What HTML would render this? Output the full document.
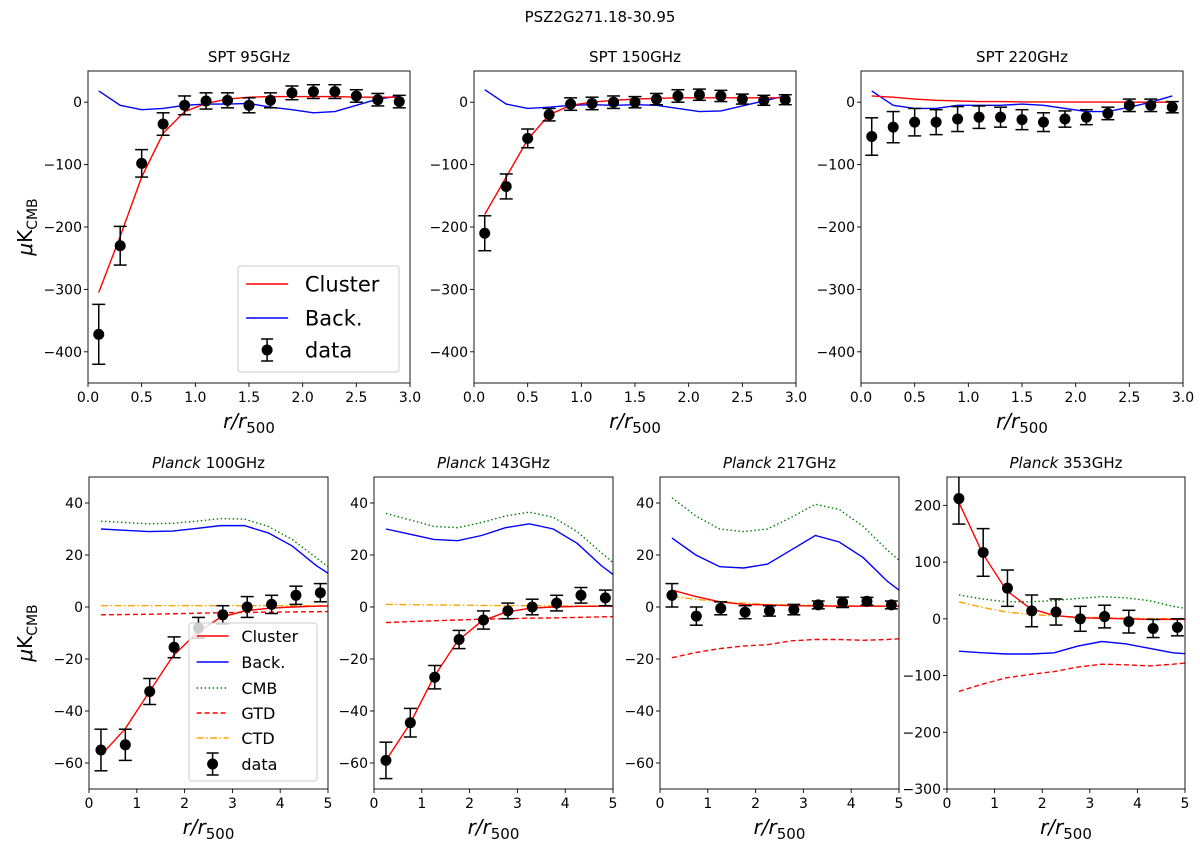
<!DOCTYPE html>
<html><head><meta charset="utf-8"><style>
body{margin:0;background:#fff}
svg{display:block;font-family:"DejaVu Sans","Liberation Sans",sans-serif}
</style></head><body>
<svg id="fig" width="1200" height="851" xmlns="http://www.w3.org/2000/svg">
<text x="600" y="22" text-anchor="middle" font-size="15">PSZ2G271.18-30.95</text>
</svg>
<script>
// ---- data ----
const sptX = [0.1,0.3,0.5,0.7,0.9,1.1,1.3,1.5,1.7,1.9,2.1,2.3,2.5,2.7,2.9];
const spt95Data = [-372,-230,-98,-35,-5,2,3,-5,3,15,17,17,10,4,1];
const spt95Err = [48,31,22,18,15,13,12,12,12,11,11,11,10,10,10];
const spt95Cluster = [-305,-215,-120,-50,-15,-2,5,8,9,9,9,9,8,8,8];
const spt95Back = [18,-5,-12,-10,-5,-3,-3,-2,-8,-12,-17,-15,-5,5,10];
const spt150Data = [-210,-135,-58,-20,-3,-2,0,0,5,10,12,10,5,3,4];
const spt150Err = [28,20,15,10,10,10,10,9,9,10,9,9,8,8,8];
const spt150Cluster = [-180,-120,-60,-20,-5,0,3,5,6,7,7,7,7,7,7];
const spt150Back = [20,-3,-10,-8,-5,-4,-5,-4,-5,-10,-15,-14,-6,2,10];
const spt220Data = [-55,-40,-32,-32,-27,-24,-24,-28,-32,-27,-24,-18,-5,-5,-8];
const spt220Err = [30,25,22,20,20,18,16,16,15,13,12,10,10,10,9];
const spt220Cluster = [10,8,5,3,2,1,1,0.5,0.5,0.3,0.2,0.2,0.1,0.1,0.1];
const spt220Back = [18,-5,-10,-10,-5,-5,-5,-3,-5,-10,-15,-15,-8,0,10];

const plX = [0.25,0.76,1.27,1.78,2.29,2.8,3.31,3.82,4.33,4.84];
const plLineX = [0.25,0.75,1.25,1.75,2.25,2.75,3.25,3.75,4.25,4.75,5.25];
const pl100Data = [-55,-53,-32.5,-15.5,-8,-3,0,1,4.5,5.5];
const pl100Err = [8,6,5,4,4,3.5,4,3.5,3.5,3.5];
const pl100Cluster = [-57,-47,-33,-19,-10,-4,-1.5,-0.5,0,0.3,0.4];
const pl100Back = [30,29.5,29,29.2,30.2,31.3,31.3,28.5,23.5,16,10];
const pl100CMB = [33,32.5,32,32.2,33,34,33.8,31,26,19,12];
const pl100GTD = [-3,-2.9,-2.8,-2.6,-2.4,-2.2,-2.1,-2,-1.9,-1.8,-1.7];
const pl100CTD = [0.5,0.5,0.5,0.5,0.5,0.5,0.5,0.5,0.5,0.5,0.5];
const pl143Data = [-59,-44.5,-27,-12.5,-5,-1.5,0,1.5,4.5,3.5];
const pl143Err = [7,5.5,4.5,3.5,3.5,3,3,3,3,3];
const pl143Cluster = [-59,-45,-27,-13,-5.5,-2,-0.5,0,0.2,0.3,0.3];
const pl143Back = [30,28,26,25.5,27.5,30.5,32,30,24.5,16,9];
const pl143CMB = [36,33.5,31,30.5,32.5,35,36.5,34.5,29,21,13];
const pl143GTD = [-6,-5.6,-5.3,-5,-4.7,-4.5,-4.3,-4.2,-4,-3.8,-3.6];
const pl143CTD = [1,0.9,0.8,0.7,0.6,0.5,0.5,0.4,0.4,0.4,0.4];
const pl217Data = [4.5,-3.5,-0.5,-2,-1.5,-1,0.8,1.8,2.2,0.8];
const pl217Err = [4.5,3.5,2.5,2.5,2,2,1.5,2,1.5,1.5];
const pl217Cluster = [6.5,4,2,1,0.8,0.5,0.4,0.3,0.3,0.3,0.3];
const pl217Back = [26.5,20,15.5,15,16.5,22,27.5,25,19,10,3];
const pl217CMB = [42,35,30,29,30,34.5,39.5,37.5,31,22,14];
const pl217GTD = [-19.5,-17.5,-16,-15,-14.5,-13,-12.5,-12.5,-12.8,-12.5,-12];
const pl217CTD = [4,3,2,1.5,1,0.8,0.6,0.5,0.4,0.4,0.4];
const pl353Data = [212,117,54,14,12,0,4,-5,-17,-15];
const pl353Err = [45,42,32,28,23,22,20,20,16,15];
const pl353Cluster = [205,115,50,18,6,2,1,0,-1,-1,-1];
const pl353Back = [-57,-60,-62,-62,-60,-48,-40,-44,-52,-60,-63];
const pl353CMB = [42,35,30,30,32,36,39,37,32,22,15];
const pl353GTD = [-128,-115,-104,-98,-93,-85,-80,-81,-83,-80,-76];
const pl353CTD = [30,20,12,8,5,3,2,1,0.5,0.3,0.3];

const sptXTicks = [0,0.5,1,1.5,2,2.5,3];
const sptXTickLabels = ["0.0","0.5","1.0","1.5","2.0","2.5","3.0"];
const sptYTicks = [-400,-300,-200,-100,0];
const plXTicks = [0,1,2,3,4,5];
const plYTicks = [-60,-40,-20,0,20,40];
const pl353YTicks = [-300,-200,-100,0,100,200];

// ---- drawing ----
const NS = "http://www.w3.org/2000/svg";
const svg = document.getElementById('fig');
function mk(tag, attrs, parent){
  const e = document.createElementNS(NS, tag);
  for (const k in attrs) e.setAttribute(k, attrs[k]);
  (parent||svg).appendChild(e);
  return e;
}
function fmt(v){ return v<0 ? "\u2212"+Math.abs(v) : ""+v; }
let clipId = 0;
function panel(p){
  const g = mk('g', {});
  
  
  const sx = v => p.x0 + (v - p.xmin)/(p.xmax - p.xmin)*(p.x1 - p.x0);
  const sy = v => p.y1 - (v - p.ymin)/(p.ymax - p.ymin)*(p.y1 - p.y0);
  const id = 'clip' + (clipId++);
  const cp = mk('clipPath', {id:id}, g);
  mk('rect', {x:p.x0, y:p.y0, width:p.x1-p.x0, height:p.y1-p.y0}, cp);
  const t = mk('text', {x:(p.x0+p.x1)/2, y:p.y0-9, 'text-anchor':'middle', 'font-size':15}, g);
  
  
  if (p.italic){ const ts = mk('tspan', {'font-style':'italic'}, t); ts.textContent = p.italic; t.appendChild(document.createTextNode(' ' + p.title)); }
  else t.textContent = p.title;
  p.xticks.forEach((v,i) => {
    const X = sx(v);
    mk('line', {x1:X, x2:X, y1:p.y1, y2:p.y1+4, stroke:'#000', 'stroke-width':0.9}, g);
    const tl = mk('text', {x:X, y:p.y1+19, 'text-anchor':'middle', 'font-size':14}, g);
    
    
    tl.textContent = p.xlabels ? p.xlabels[i] : fmt(v);
  });
  p.yticks.forEach(v => {
    const Y = sy(v);
    mk('line', {x1:p.x0-4, x2:p.x0, y1:Y, y2:Y, stroke:'#000', 'stroke-width':0.9}, g);
    const tl = mk('text', {x:p.x0-6, y:Y+5, 'text-anchor':'end', 'font-size':14}, g);
    
    
    tl.textContent = fmt(v);
  });
  const xl = mk('text', {x:(p.x0+p.x1)/2, y:p.y1+45, 'text-anchor':'middle', 'font-size':20, 'font-style':'italic'}, g);
  
  
  xl.innerHTML = 'r/r<tspan font-style="normal" font-size="15" dy="5">500</tspan>';
  if (p.ylabel){
    const cy = (p.y0+p.y1)/2;
    const yl = mk('text', {x:0, y:0, 'text-anchor':'middle', 'font-size':20, transform:`translate(${p.ylabelX},${cy}) rotate(-90)`}, g);
    
    
    yl.innerHTML = '<tspan font-style="italic">μ</tspan>K<tspan font-size="14" dy="5">CMB</tspan>';
  }
  const plot = mk('g', {'clip-path':`url(#${id})`}, g);
  p.lines.forEach(L => {
    const pts = L.y.map((v,i) => sx(L.x[i]) + ',' + sy(v)).join(' ');
    const pl = mk('polyline', {points:pts, fill:'none', stroke:L.color, 'stroke-width':1.4, 'stroke-dasharray':L.dash||'none'}, plot);
    
    
  });
  const dg = mk('g', {}, plot);
  
  
  p.data.forEach((v,i) => {
    const X = sx(p.dx[i]), e = p.err[i];
    mk('line', {x1:X, x2:X, y1:sy(v-e), y2:sy(v+e), stroke:'#000', 'stroke-width':1.5}, dg);
    mk('line', {x1:X-6.5, x2:X+6.5, y1:sy(v-e), y2:sy(v-e), stroke:'#000', 'stroke-width':1.5}, dg);
    mk('line', {x1:X-6.5, x2:X+6.5, y1:sy(v+e), y2:sy(v+e), stroke:'#000', 'stroke-width':1.5}, dg);
    const c = mk('circle', {cx:X, cy:sy(v), r:5.5, fill:'#000'}, dg);
    
    
  });
  const fr = mk('rect', {x:p.x0, y:p.y0, width:p.x1-p.x0, height:p.y1-p.y0, fill:'none', stroke:'#000', 'stroke-width':0.9}, g);
  
  
  return g;
}
function legend(x, y, w, h, rowY, fs, items){
  const g = mk('g', {});
  
  
  mk('rect', {x:x, y:y, width:w, height:h, rx:3, fill:'#fff', 'fill-opacity':0.8, stroke:'#ccc'}, g);
  items.forEach((it,i) => {
    const e = mk('g', {}, g);
    
    
    const Y = rowY[i];
    const lx = x + 6 + fs*0.1;
    if (it.color){
      mk('line', {x1:lx, x2:lx+fs*2, y1:Y, y2:Y, stroke:it.color, 'stroke-width':1.4, 'stroke-dasharray':it.dash||'none'}, e);
    } else {
      const cx = lx + fs;
      mk('line', {x1:cx, x2:cx, y1:Y-11, y2:Y+11, stroke:'#000', 'stroke-width':1.5}, e);
      mk('line', {x1:cx-6, x2:cx+6, y1:Y-11, y2:Y-11, stroke:'#000', 'stroke-width':1.5}, e);
      mk('line', {x1:cx-6, x2:cx+6, y1:Y+11, y2:Y+11, stroke:'#000', 'stroke-width':1.5}, e);
      mk('circle', {cx:cx, cy:Y, r:5.5, fill:'#000'}, e);
    }
    const t = mk('text', {x:lx+fs*2+fs*0.8, y:Y+fs*0.36, 'font-size':fs}, e);
    t.textContent = it.label;
  });
}
const sptPanels = [
  {name:'spt-95ghz-panel', title:'SPT 95GHz', x0:88, x1:410, d:spt95Data, e:spt95Err, c:spt95Cluster, b:spt95Back, ylabel:true},
  {name:'spt-150ghz-panel', title:'SPT 150GHz', x0:474, x1:796, d:spt150Data, e:spt150Err, c:spt150Cluster, b:spt150Back},
  {name:'spt-220ghz-panel', title:'SPT 220GHz', x0:861, x1:1183, d:spt220Data, e:spt220Err, c:spt220Cluster, b:spt220Back}
];
sptPanels.forEach(s => panel({
  name:s.name, title:s.title, x0:s.x0, x1:s.x1, y0:71, y1:383, xmin:0, xmax:3, ymin:-450, ymax:50,
  xticks:sptXTicks, xlabels:sptXTickLabels, yticks:sptYTicks, ylabel:s.ylabel, ylabelX:32,
  dx:sptX, data:s.d, err:s.e,
  lines:[{name:'back-line', x:sptX, y:s.b, color:'#0000ff'},{name:'cluster-line', x:sptX, y:s.c, color:'#ff0000'}]
}));
legend(238, 266, 161, 106, [284, 318, 350], 21, [
  {label:'Cluster', color:'#ff0000'}, {label:'Back.', color:'#0000ff'}, {label:'data'}]);

const plPanels = [
  {name:'planck-100ghz-panel', t:'100GHz', x0:89, x1:328, d:pl100Data, e:pl100Err, c:pl100Cluster, b:pl100Back, m:pl100CMB, g:pl100GTD, t2:pl100CTD, ylabel:true},
  {name:'planck-143ghz-panel', t:'143GHz', x0:374, x1:613, d:pl143Data, e:pl143Err, c:pl143Cluster, b:pl143Back, m:pl143CMB, g:pl143GTD, t2:pl143CTD},
  {name:'planck-217ghz-panel', t:'217GHz', x0:660, x1:899, d:pl217Data, e:pl217Err, c:pl217Cluster, b:pl217Back, m:pl217CMB, g:pl217GTD, t2:pl217CTD},
  {name:'planck-353ghz-panel', t:'353GHz', x0:947, x1:1185, d:pl353Data, e:pl353Err, c:pl353Cluster, b:pl353Back, m:pl353CMB, g:pl353GTD, t2:pl353CTD, big:true}
];
plPanels.forEach(s => panel({
  name:s.name, italic:'Planck', title:s.t, x0:s.x0, x1:s.x1, y0:477, y1:789, xmin:0, xmax:5,
  ymin:s.big?-300:-70, ymax:s.big?250:50,
  xticks:plXTicks, yticks:s.big?pl353YTicks:plYTicks, ylabel:s.ylabel, ylabelX:32,
  dx:plX, data:s.d, err:s.e,
  lines:[
    {name:'cmb-line', x:plLineX, y:s.m, color:'#008000', dash:'1.5 2.5'},
    {name:'back-line', x:plLineX, y:s.b, color:'#0000ff'},
    {name:'gtd-line', x:plLineX, y:s.g, color:'#ff0000', dash:'5 3'},
    {name:'ctd-line', x:plLineX, y:s.t2, color:'#ffa500', dash:'7 2.5 1.5 2.5'},
    {name:'cluster-line', x:plLineX, y:s.c, color:'#ff0000'}
  ]
}));
legend(189, 623, 128, 158, [636, 662, 688, 713, 738, 764], 16, [
  {label:'Cluster', color:'#ff0000'}, {label:'Back.', color:'#0000ff'},
  {label:'CMB', color:'#008000', dash:'1.5 2.5'}, {label:'GTD', color:'#ff0000', dash:'5 3'},
  {label:'CTD', color:'#ffa500', dash:'7 2.5 1.5 2.5'}, {label:'data'}]);
</script>
</body></html>
